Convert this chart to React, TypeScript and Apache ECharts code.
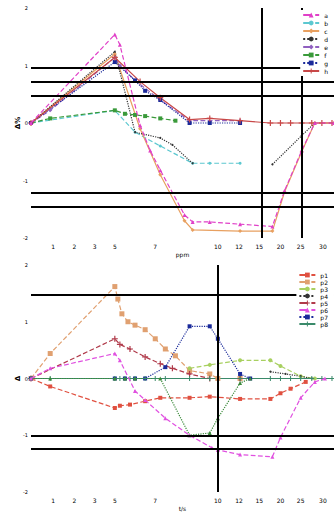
import React, { useEffect, useRef } from "react";
import * as echarts from "echarts";

// ---- data (x in axis units, y in %) ----
const topNames = ["a", "b", "c", "d", "e", "f", "g", "h"];
const topMagenta = [[0,0],[8.3,77],[8.8,68],[10.8,-2],[11.8,-24],[12.8,-41],[15.2,-80],[16,-86],[17.7,-86],[20.7,-88],[23.9,-90],[25.1,-59],[26.8,-24],[28.1,0],[30,0]];
const topCyan = [[0,0],[8.3,11],[10.3,-8],[12.8,-20],[16,-35],[17.7,-35],[20.7,-35]];
const topOrange = [[0,0],[8.3,60],[10.8,-5],[12.8,-45],[15.2,-85],[16,-93],[20.7,-94],[23.9,-94],[25.1,-60],[26.8,-25],[28.1,0],[30,0]];
const topBlack = [[0,0],[8.3,62],[10.3,-8],[12.8,-13],[14,-19],[16,-35],[22,"-"],[23.9,-36],[26.8,-11],[28.1,0]];
const topPurple = [[0,0],[1.9,11],[8.3,57],[8.8,50],[10.3,37],[12.8,20],[15.7,2],[20.7,2]];
const topGreen = [[0,0],[1.9,4],[8.3,11],[9.3,8],[10.3,7],[11.3,6],[12.8,4],[14.3,2]];
const topBlue = [[0,0],[8.3,53],[10.3,37],[11.3,28],[12.8,20],[15.7,0],[17.7,0],[20.7,0]];
const topRed = [[0,0],[8.3,57],[10.8,36],[12.8,22],[15.7,3],[17.7,4],[20.7,2],[23.7,0],[24.7,0],[25.7,0],[26.8,0],[27.8,0],[28.8,0],[29.8,0]];
const topHLines = [48, 36, 24, -61, -73];
const topVLines = [22.8, 26.8];

const botNames = ["p1", "p2", "p3", "p4", "p5", "p6", "p7", "p8"];
const botOrange = [[0,0],[1.9,-7],[8.3,-26],[8.8,-24],[9.8,-23],[11.3,-20],[12.8,-17],[15.7,-17],[17.7,-16],[20.7,-18],[23.7,-18],[24.7,-13],[25.7,-9],[27.2,-3]];
const botTan = [[0,0],[1.9,22],[8.3,81],[8.6,70],[9,57],[9.6,50],[10.3,47],[11.3,43],[12.3,35],[13.3,26],[14.3,20],[15.7,7],[17.7,4],[18.5,0],[20.7,0]];
const botYellow = [[15.7,9],[17.7,12],[20.7,16],[23.7,16],[24.7,11],[26.7,2],[28.1,0]];
const botBlack = [[23.7,6],[25.2,4],[26.7,2],[27.8,0]];
const botDarkRed = [[0,0],[8.3,35],[8.8,30],[9.8,26],[11.3,19],[12.8,13],[14,9],[15.7,4],[17.7,0],[20.7,0]];
const botMagenta = [[0,0],[1.9,9],[8.3,22],[8.8,16],[10.3,-11],[11.3,-19],[13.3,-35],[15.7,-50],[17.9,-61],[18.5,-63],[20.7,-67],[23.9,-69],[24.7,-52],[26.7,-17],[28.1,-3],[29.1,0]];
const botBlue = [[0,0],[8.3,0],[9.3,0],[10.3,0],[11.3,0],[13.3,10],[15.7,46],[17.7,46],[18.5,35],[20.7,4],[21.7,0]];
const botTeal = [[0,0],[1.9,0],[8.3,0],[8.8,0],[9.3,0],[9.8,0],[10.3,0],[11.3,0],[12.3,0],[13.3,0],[15.7,0],[17.7,0],[20.7,0],[23.7,0],[24.7,0],[25.7,0],[26.7,0],[27.8,0],[28.8,0],[29.8,0]];
const botGreenDip = [[0,0],[1.9,0],[8.3,0],[9.3,0],[10.3,0],[12.8,0],[15.7,-50],[17.7,-48],[18.5,-35],[20.7,-4],[21.7,0]];
const botHLines = [74, -50, -62];
const botVLines = [18.5];

const xTicks = [2.2, 4.3, 6.3, 8.3, 12.3, 18.5, 20.6, 22.6, 24.7, 26.7, 28.9];
const xTickLabels = ["1", "2", "3", "5", "7", "10", "12", "15", "20", "25", "30"];
const yTicks = [-100, -50, 0, 50, 100];

const PLUS = "path://M0,4H10V6H0Z M4,0H6V10H4Z";

export default function App() {
  const ref = useRef<HTMLDivElement>(null);
  useEffect(() => {
    document.body.style.margin = "0";
    const chart = echarts.init(ref.current!, null, { renderer: "svg" });
    const mk = (name: string, data: any[], color: string, xi: number, opts: any = {}) => ({
      type: "line",
      name,
      data,
      xAxisIndex: xi,
      yAxisIndex: xi,
      color,
      symbol: opts.symbol ?? "rect",
      symbolSize: opts.symbolSize ?? 4,
      showSymbol: true,
      connectNulls: false,
      lineStyle: { width: 1.2, type: opts.lt ?? "dashed", color },
      itemStyle: { color },
      z: opts.z ?? 2,
    });
    const lines = (xi: number, ys: number[], xs: number[]) => ({
      type: "line",
      data: [],
      xAxisIndex: xi,
      yAxisIndex: xi,
      silent: true,
      markLine: {
        symbol: "none",
        silent: true,
        label: { show: false },
        lineStyle: { color: "#000", width: 2, type: "solid" },
        data: [...ys.map((v) => ({ yAxis: v })), ...xs.map((v) => ({ xAxis: v }))],
      },
      z: 1,
    });
    const xAxisCommon = (gi: number, name: string) => ({
      type: "value",
      gridIndex: gi,
      min: 0,
      max: 30,
      name,
      nameLocation: "middle",
      nameGap: 13,
      nameMoveOverlap: false,
      nameTextStyle: { fontSize: 6, color: "#000" },
      axisLine: { show: false },
      axisTick: { show: false },
      splitLine: { show: false },
      axisLabel: {
        customValues: xTicks,
        fontSize: 6,
        color: "#000",
        margin: 5,
        formatter: (v: number) => {
          const i = xTicks.indexOf(v);
          return i >= 0 ? xTickLabels[i] : "";
        },
      },
    });
    const yAxisCommon = (gi: number, name: string) => ({
      type: "value",
      gridIndex: gi,
      min: -100,
      max: 100,
      interval: 50,
      name,
      nameLocation: "middle",
      nameGap: 10,
      nameMoveOverlap: false,
      nameTextStyle: { fontSize: 7, color: "#000", fontWeight: "bold" },
      axisLine: { show: false },
      axisTick: { show: false },
      splitLine: { show: false },
      axisLabel: { fontSize: 5, color: "#000", margin: 3, formatter: (v: number) => (yTicks.includes(v) ? String(v / 50) : "") },
    });
    const legendCommon = {
      orient: "vertical",
      right: 0,
      itemWidth: 16,
      itemHeight: 6,
      textStyle: { fontSize: 6, color: "#000" },
      backgroundColor: "#fff",
      padding: [2, 6, 2, 2],
      z: 10,
    };
    chart.setOption({
      animation: false,
      backgroundColor: "#fff",
      textStyle: { fontFamily: "DejaVu Sans" },
      grid: [
        { left: 31, right: 0, top: 8, height: 230 },
        { left: 31, right: 0, top: 265, height: 230 },
      ],
      xAxis: [xAxisCommon(0, "ppm"), xAxisCommon(1, "t/s")],
      yAxis: [yAxisCommon(0, "Δ%"), yAxisCommon(1, "Δ")],
      legend: [
        { ...legendCommon, top: 10, itemGap: 2, data: topNames },
        { ...legendCommon, top: 270, itemGap: 1, data: botNames },
      ],
      series: [
        lines(0, topHLines, topVLines),
        lines(1, botHLines, botVLines),
        mk(topNames[0], topMagenta, "#e040c8", 0, { symbol: "triangle", lt: "dashed", z: 3 }),
        mk(topNames[1], topCyan, "#5cc8d0", 0, { symbol: "circle", symbolSize: 3 }),
        mk(topNames[2], topOrange, "#e8a060", 0, { symbol: "diamond", lt: "solid" }),
        mk(topNames[3], topBlack, "#333333", 0, { symbol: "circle", symbolSize: 2, lt: "dotted" }),
        mk(topNames[4], topPurple, "#9060c0", 0, { symbol: "diamond", lt: "dashed" }),
        mk(topNames[5], topGreen, "#3a9a3a", 0, { symbol: "rect", lt: "dashed" }),
        mk(topNames[6], topBlue, "#1a2a9a", 0, { symbol: "rect", lt: "dotted" }),
        mk(topNames[7], topRed, "#c84848", 0, { symbol: PLUS, symbolSize: 6, lt: "solid" }),
        mk(botNames[0], botOrange, "#e05040", 1, { symbol: "rect", lt: "dashed" }),
        mk(botNames[1], botTan, "#e0a070", 1, { symbol: "rect", symbolSize: 5, lt: "dashed" }),
        mk(botNames[2], botYellow, "#a8d060", 1, { symbol: "circle", lt: "dashed" }),
        mk(botNames[3], botBlack, "#333333", 1, { symbol: "circle", symbolSize: 2, lt: "dotted" }),
        mk(botNames[4], botDarkRed, "#b03a4a", 1, { symbol: PLUS, symbolSize: 6, lt: "dashed" }),
        mk(botNames[5], botMagenta, "#e050e0", 1, { symbol: "triangle", lt: "dashed", z: 3 }),
        mk(botNames[6], botBlue, "#1a2a9a", 1, { symbol: "rect", lt: "dotted" }),
        mk(botNames[7], botTeal, "#3a8a6a", 1, { symbol: PLUS, symbolSize: 5, lt: "solid" }),
        mk("q", botGreenDip, "#3a8a3a", 1, { symbol: "triangle", lt: "dotted" }),
      ],
    });
    return () => chart.dispose();
  }, []);
  return <div ref={ref} style={{ width: 334, height: 512 }} />;
}
